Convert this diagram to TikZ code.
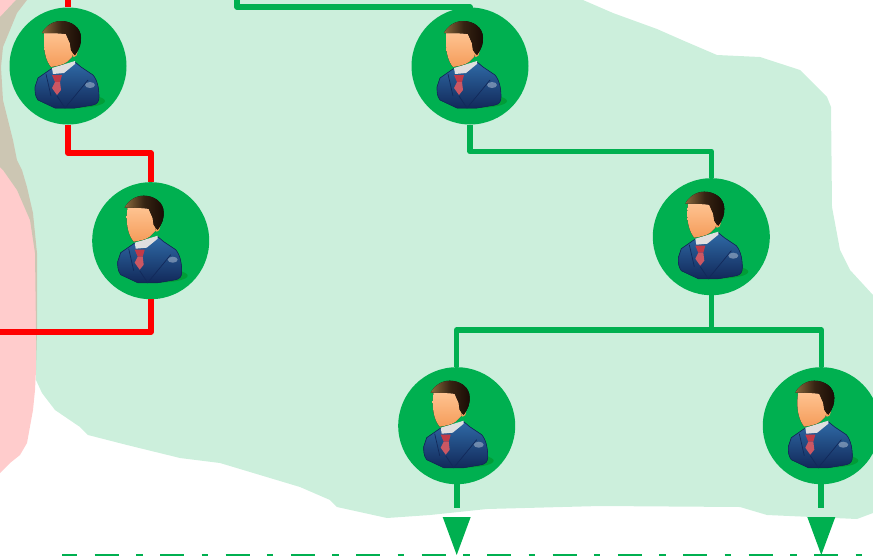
\documentclass[tikz,border=0pt]{standalone}
\usepackage{tikz}
\definecolor{linegreen}{HTML}{00B050}
\definecolor{suitdark}{HTML}{12295A}
\definecolor{suitlight}{HTML}{2F6AA6}
\definecolor{hairdark}{HTML}{1A0C05}
\definecolor{hairlight}{HTML}{8A6A3C}
\definecolor{facelight}{HTML}{FFC695}
\definecolor{facedark}{HTML}{F59C5A}
\definecolor{tiered}{HTML}{C23A48}
\tikzset{
  manbase/.style={circle, fill=linegreen, minimum size=117pt, inner sep=0pt},
  redline/.style={red, line width=6pt, line join=round},
  greenline/.style={linegreen, line width=5.5pt, line join=round},
  cutline/.style={linegreen, line width=4pt},
  man/.pic={
    \fill[green!45!black, opacity=0.3] (6,35) ellipse (31 and 7);
    \fill[top color=suitlight, bottom color=suitdark, draw=suitdark, line width=0.6pt]
      (-33,21) -- (-30,12) -- (-17,3) -- (7,-4) -- (13,1) -- (25,9) .. controls (30,15) and (31,24) .. (31,31)
      .. controls (31,36) and (29,38) .. (25,39) -- (7,42) -- (-13,42) -- (-30,34) .. controls (-33,30) and (-33,26) .. (-33,21) -- cycle;
    \fill[gray!25] (-16,2) -- (7,-5) -- (7,-2) -- (-4,7) -- (-15,8) -- cycle;
    \fill[facedark] (6,-14) ellipse (3.5 and 5);
    \fill[top color=facelight, bottom color=facedark]
      (-23,-36) -- (-24,-24) .. controls (-24,-14) and (-22,-5) .. (-17,1) .. controls (-11,0) and (-5,-1) .. (-1,-4)
      -- (4,-9) -- (7,-19) -- (1,-36) -- cycle;
    \fill[left color=hairlight, right color=hairdark, middle color=hairdark!75!hairlight]
      (-26,-33) .. controls (-23,-39) and (-16,-45) .. (-7,-45) .. controls (3,-45) and (13,-39) .. (13,-28)
      .. controls (13,-22) and (12,-18) .. (7,-11) -- (5,-13) -- (3,-16) -- (2,-23) -- (-2,-32) .. controls (-8,-33) and (-18,-33) .. (-26,-33) -- cycle;
    \fill[tiered] (-16,9) -- (-6,9) -- (-8,16) -- (-13,16) -- cycle;
    \fill[tiered!85!white] (-13,16) -- (-8,16) -- (-7,24) -- (-11,29) -- (-16,22) -- cycle;
    \draw[suitdark, line width=0.7pt] (-11,30) -- (-3,42) -- (20,14);
    \draw[suitdark, line width=0.7pt] (-22,8) -- (-17,30);
    \fill[white, opacity=0.35] (22,19) ellipse (5 and 3);
  }
}
\begin{document}
\begin{tikzpicture}[x=1pt, y=-1pt]
        \useasboundingbox (0,0) rectangle (873,555);
        \clip (0,0) rectangle (873,555);

        % backgrounds
        \fill[red, opacity=0.2] (27,0) -- (17,13) -- (3,47) -- (1,67) -- (3,100) -- (13,140) -- (17,160) -- (22,170) -- (27,187) -- (33,213) -- (37,253) -- (37,330) -- (36,370) -- (35,390) -- (33,410) -- (27,443) -- (20,455) -- (10,463) -- (0,473) -- (-10,480) -- (-20,0) -- cycle;
        \fill[linegreen, opacity=0.2] (16,0) -- (0,17) -- (-10,30) -- (-10,150) -- (0,167) -- (3,170) -- (17,190) -- (30,220) -- (35,253) -- (36,330) -- (36,380) -- (42,393) -- (55,410) -- (80,427) -- (88,435) -- (127,445) -- (180,458) -- (220,463) -- (300,487) -- (330,500) -- (337,507) -- (387,518) -- (430,515) -- (487,509) -- (600,506) -- (740,507) -- (767,515) -- (857,519) -- (873,513) -- (873,295) -- (850,270) -- (840,250) -- (832,207) -- (831,107) -- (827,97) -- (800,70) -- (760,57) -- (717,55) -- (682,40) -- (657,29) -- (613,13) -- (583,0) -- cycle;

        % people
        \node[manbase] (manA) at (68,66) {};
        \node[manbase] (manB) at (150.7,240.7) {};
        \node[manbase] (manC) at (470,66) {};
        \node[manbase] (manD) at (711.3,236.7) {};
        \node[manbase] (manE) at (456.7,425.7) {};
        \node[manbase] (manF) at (821.3,425.7) {};
        \foreach \who in {manA,manB,manC,manD,manE,manF}
            \pic at (\who) {man};

        % free ends
        \coordinate (redtop) at (68,0);
        \coordinate (redleft) at (0,332);
        \coordinate (greentop) at (237,0);
        \coordinate (forkD) at (711.3,330);
        \coordinate (endE) at (456.7,508);
        \coordinate (endF) at (821.3,508);

        % red connectors
        \draw[redline] (redtop) -- (manA.north);
        \draw[redline] (manA.south) |- (110,153) -| (manB.north);
        \draw[redline] (manB.south) |- (redleft);

        % green connectors
        \draw[greenline] (greentop) |- (350,7) -| (manC.north);
        \draw[greenline] (manC.south) |- (590,151.5) -| (manD.north);
        \draw[greenline] (manD.south) -- (forkD);
        \draw[greenline] (forkD) -| (manE.north);
        \draw[greenline] (forkD) -| (manF.north);
        \draw[greenline, line width=6pt] (manE.south) -- (endE);
        \draw[greenline, line width=6pt] (manF.south) -- (endF);

        % arrow heads, set apart from their shafts
        \fill[linegreen] ([xshift=-14pt, yshift=-9pt]endE) -- ([xshift=14pt, yshift=-9pt]endE) -- ([yshift=-47pt]endE) -- cycle;
        \fill[linegreen] ([xshift=-14pt, yshift=-9pt]endF) -- ([xshift=14pt, yshift=-9pt]endF) -- ([yshift=-47pt]endF) -- cycle;

        % cut off line at the bottom
        \draw[cutline] (62,555.5) -- (77,555.5);
        \draw[cutline, dash pattern=on 24pt off 17.4pt on 6.4pt off 17.6pt] (94.7,555.5) -- (873,555.5);
\end{tikzpicture}
\end{document}
